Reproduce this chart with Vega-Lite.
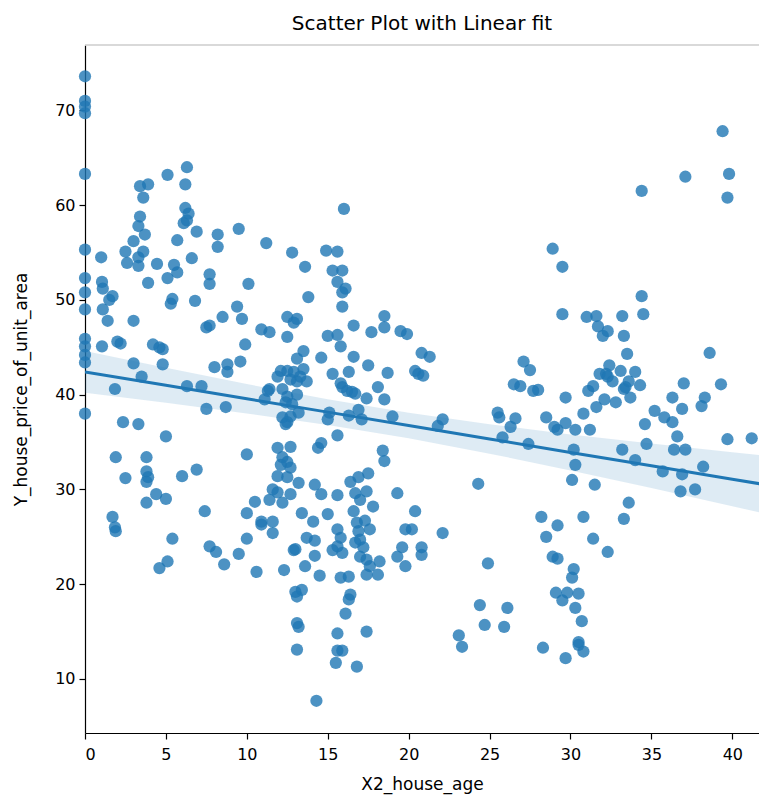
{
"$schema": "https://vega.github.io/schema/vega-lite/v6.json",
"width": 674, "height": 688,
"autosize": {"type": "none"},
"padding": {"left": 85, "top": 45, "right": 0, "bottom": 67},
"title": {"text": "Scatter Plot with Linear fit", "fontSize": 20, "font": "DejaVu Sans", "fontWeight": "normal", "color": "#000000", "offset": 10},
"config": {"view": {"stroke": null}, "font": "DejaVu Sans",
 "axis": {"grid": false, "domainColor": "#000000", "tickColor": "#000000", "labelColor": "#000000", "titleColor": "#000000", "labelFontSize": 16, "titleFontSize": 17, "titleFontWeight": "normal", "tickSize": 6, "labelPadding": 4, "domainWidth": 1.2, "tickWidth": 1.2}},
"datasets": {
"points": [
{"age":0,"price":73.6},{"age":0,"price":71.0},{"age":0,"price":70.4},{"age":0,"price":69.7},{"age":0,"price":63.3},{"age":0,"price":55.3},{"age":0,"price":52.3},{"age":0,"price":50.8},{"age":0,"price":49.0},{"age":0,"price":45.9},{"age":0,"price":45.1},{"age":0,"price":44.2},{"age":0,"price":43.4},{"age":0,"price":38.0},
{"age":1.0,"price":54.5},{"age":1.05,"price":51.9},{"age":1.1,"price":51.2},{"age":1.7,"price":50.4},{"age":1.1,"price":49.0},{"age":1.4,"price":47.8},{"age":1.5,"price":50.0},
{"age":1.05,"price":45.1},{"age":2.0,"price":45.6},{"age":2.2,"price":45.4},{"age":1.85,"price":40.6},{"age":1.9,"price":33.4},{"age":1.7,"price":27.1},{"age":1.85,"price":26.0},{"age":1.9,"price":25.6},
{"age":2.5,"price":55.1},{"age":2.6,"price":53.9},{"age":3.3,"price":54.5},{"age":3.6,"price":55.1},{"age":3.3,"price":53.6},{"age":3.0,"price":56.2},{"age":3.4,"price":58.8},{"age":3.3,"price":57.8},{"age":3.7,"price":56.9},{"age":3.4,"price":62.0},{"age":3.9,"price":62.2},{"age":3.6,"price":60.8},
{"age":3.9,"price":51.8},{"age":4.45,"price":53.8},{"age":3.0,"price":47.8},{"age":2.35,"price":37.1},{"age":3.3,"price":36.9},{"age":3.0,"price":43.3},{"age":3.5,"price":41.9},{"age":4.2,"price":45.3},{"age":4.6,"price":45.0},{"age":4.8,"price":44.8},{"age":4.8,"price":43.2},
{"age":3.8,"price":33.4},{"age":2.5,"price":31.2},{"age":3.8,"price":31.9},{"age":3.9,"price":31.3},{"age":3.8,"price":30.8},{"age":3.8,"price":28.6},{"age":4.4,"price":29.5},{"age":5.0,"price":29.0},{"age":4.6,"price":21.7},{"age":5.1,"price":22.4},{"age":5.4,"price":24.8},{"age":5.0,"price":35.6},
{"age":5.1,"price":63.2},{"age":6.3,"price":64.0},{"age":6.2,"price":62.2},{"age":6.2,"price":59.7},{"age":6.4,"price":59.1},{"age":6.1,"price":58.1},{"age":6.3,"price":58.4},{"age":6.9,"price":57.2},{"age":5.7,"price":56.3},{"age":5.5,"price":53.7},{"age":5.7,"price":52.9},{"age":6.6,"price":54.4},{"age":5.1,"price":52.3},
{"age":5.4,"price":50.1},{"age":5.3,"price":49.6},{"age":6.8,"price":49.9},{"age":7.7,"price":52.7},{"age":7.7,"price":51.7},{"age":8.2,"price":56.9},{"age":8.2,"price":55.6},{"age":9.5,"price":57.5},
{"age":7.5,"price":47.1},{"age":7.7,"price":47.3},{"age":8.5,"price":48.2},{"age":9.4,"price":49.3},{"age":9.7,"price":48.0},{"age":9.9,"price":45.3},
{"age":6.3,"price":40.9},{"age":7.2,"price":40.9},{"age":8.0,"price":42.9},{"age":8.8,"price":43.2},{"age":8.8,"price":42.4},{"age":9.6,"price":43.5},{"age":7.5,"price":38.5},{"age":8.7,"price":38.7},
{"age":6.0,"price":31.4},{"age":6.9,"price":32.1},{"age":7.4,"price":27.7},{"age":7.7,"price":24.0},{"age":8.1,"price":23.4},{"age":8.6,"price":22.1},{"age":9.5,"price":23.2},{"age":10.0,"price":24.8},{"age":10.0,"price":33.7},
{"age":10.1,"price":51.7},{"age":11.2,"price":56.0},{"age":12.8,"price":55.0},{"age":13.6,"price":53.5},{"age":10.9,"price":46.9},{"age":11.4,"price":46.6},{"age":12.5,"price":48.2},{"age":12.9,"price":47.6},{"age":13.1,"price":48.0},{"age":12.5,"price":46.1},{"age":13.8,"price":50.3},
{"age":11.3,"price":40.4},{"age":11.1,"price":39.5},{"age":10.9,"price":26.3},{"age":11.6,"price":25.4},{"age":10.6,"price":21.3},{"age":12.3,"price":21.5},{"age":12.9,"price":23.6},
{"age":13.5,"price":44.6},{"age":13.1,"price":43.8},{"age":14.6,"price":43.9},
{"age":12.1,"price":42.5},{"age":12.5,"price":42.5},{"age":12.9,"price":42.4},{"age":13.5,"price":42.7},{"age":11.9,"price":41.9},{"age":12.7,"price":41.6},{"age":13.1,"price":41.4},{"age":13.3,"price":41.9},{"age":13.7,"price":41.4},
{"age":12.2,"price":40.6},{"age":12.5,"price":39.8},{"age":13.1,"price":40.0},{"age":12.4,"price":39.2},{"age":12.8,"price":39.0},{"age":11.4,"price":40.6},
{"age":12.2,"price":37.6},{"age":12.5,"price":37.1},{"age":12.4,"price":36.9},{"age":12.7,"price":37.7},{"age":13.2,"price":38.1},
{"age":15.0,"price":46.2},{"age":15.6,"price":46.3},{"age":15.8,"price":45.1},
{"age":11.9,"price":34.4},{"age":12.7,"price":34.5},{"age":12.2,"price":33.4},{"age":12.5,"price":32.9},{"age":12.1,"price":32.6},{"age":12.7,"price":32.3},{"age":11.9,"price":31.4},{"age":12.5,"price":31.3},{"age":13.2,"price":30.7},{"age":11.6,"price":30.0},{"age":11.9,"price":29.7},{"age":12.7,"price":29.5},{"age":12.2,"price":28.6},{"age":11.4,"price":28.9},{"age":10.5,"price":28.7},{"age":10.0,"price":27.5},{"age":10.9,"price":26.6},{"age":11.6,"price":26.6},{"age":13.4,"price":27.5},{"age":14.1,"price":26.6},
{"age":14.4,"price":34.4},{"age":14.6,"price":34.9},{"age":14.2,"price":30.5},{"age":14.6,"price":29.5},
{"age":13.7,"price":24.9},{"age":14.2,"price":24.6},{"age":14.2,"price":23.0},{"age":13.0,"price":23.7},{"age":13.6,"price":21.9},{"age":14.5,"price":20.9},
{"age":13.0,"price":19.2},{"age":13.4,"price":19.4},{"age":13.1,"price":18.7},{"age":13.1,"price":15.9},{"age":13.2,"price":15.5},{"age":13.1,"price":13.1},{"age":14.3,"price":7.7},
{"age":16.0,"price":59.6},{"age":14.9,"price":55.2},{"age":15.6,"price":55.1},{"age":15.3,"price":53.1},{"age":15.9,"price":53.1},{"age":15.6,"price":51.9},{"age":16.1,"price":51.2},{"age":15.9,"price":50.8},{"age":15.9,"price":49.3},{"age":16.6,"price":47.3},{"age":18.5,"price":48.3},{"age":18.5,"price":47.1},{"age":17.7,"price":46.6},{"age":19.5,"price":46.7},{"age":19.9,"price":46.4},
{"age":16.6,"price":44.0},{"age":17.5,"price":43.1},{"age":18.7,"price":42.3},{"age":15.3,"price":42.2},{"age":16.3,"price":42.4},{"age":15.8,"price":41.2},{"age":15.9,"price":40.8},{"age":16.2,"price":40.4},{"age":16.5,"price":40.3},{"age":16.7,"price":40.1},{"age":18.1,"price":40.8},{"age":18.5,"price":39.5},{"age":17.4,"price":39.6},
{"age":15.1,"price":38.1},{"age":15.0,"price":37.4},{"age":16.3,"price":37.8},{"age":16.9,"price":38.4},{"age":17.1,"price":37.4},{"age":19.0,"price":37.7},
{"age":15.6,"price":35.7},{"age":18.4,"price":34.1},{"age":18.5,"price":33.0},
{"age":16.4,"price":30.8},{"age":16.9,"price":31.3},{"age":17.5,"price":31.7},{"age":15.6,"price":29.4},{"age":16.7,"price":29.6},{"age":17.4,"price":29.8},{"age":17.0,"price":28.9},{"age":19.3,"price":29.6},{"age":17.8,"price":28.2},{"age":15.0,"price":27.4},{"age":16.6,"price":27.7},
{"age":16.8,"price":26.5},{"age":17.3,"price":26.7},{"age":17.6,"price":25.8},{"age":16.9,"price":25.6},{"age":17.0,"price":24.7},{"age":17.2,"price":23.9},{"age":17.0,"price":22.9},{"age":17.4,"price":22.6},{"age":17.6,"price":21.9},{"age":18.2,"price":22.4},{"age":18.1,"price":21.0},{"age":17.4,"price":21.0},{"age":16.7,"price":24.4},
{"age":15.6,"price":25.8},{"age":15.8,"price":24.9},{"age":15.6,"price":24.0},{"age":15.9,"price":23.3},{"age":15.3,"price":23.6},
{"age":15.8,"price":20.7},{"age":16.3,"price":20.8},{"age":16.4,"price":18.9},{"age":16.3,"price":18.4},{"age":16.1,"price":16.9},{"age":17.4,"price":15.0},{"age":15.6,"price":14.8},{"age":15.6,"price":13.0},{"age":15.9,"price":13.0},{"age":15.5,"price":11.7},{"age":16.8,"price":11.3},
{"age":19.8,"price":25.8},{"age":20.2,"price":25.8},{"age":19.6,"price":23.9},{"age":19.3,"price":22.9},{"age":19.8,"price":21.9},{"age":20.4,"price":27.7},
{"age":20.8,"price":23.9},{"age":20.8,"price":23.1},{"age":22.1,"price":25.4},{"age":20.8,"price":44.4},{"age":21.3,"price":44.0},{"age":20.4,"price":42.5},{"age":20.6,"price":42.2},{"age":20.9,"price":42.0},{"age":22.1,"price":37.4},{"age":21.8,"price":36.7},
{"age":24.3,"price":30.6},{"age":24.9,"price":22.2},{"age":24.4,"price":17.8},{"age":24.7,"price":15.7},{"age":26.1,"price":17.5},{"age":25.9,"price":15.5},{"age":23.1,"price":14.6},{"age":23.3,"price":13.4},
{"age":25.5,"price":38.1},{"age":25.6,"price":37.6},{"age":26.6,"price":37.5},{"age":26.3,"price":36.6},{"age":25.8,"price":35.5},
{"age":27.1,"price":43.5},{"age":27.5,"price":42.6},{"age":26.5,"price":41.1},{"age":26.9,"price":40.9},{"age":27.7,"price":40.4},
{"age":28.0,"price":40.5},{"age":28.9,"price":55.4},{"age":29.5,"price":53.5},{"age":29.5,"price":48.5},{"age":29.7,"price":39.7},{"age":31.1,"price":40.4},{"age":31.4,"price":40.9},{"age":30.8,"price":38.0},{"age":28.5,"price":37.6},{"age":29.0,"price":36.6},{"age":29.2,"price":36.3},{"age":29.7,"price":37.0},{"age":30.3,"price":36.3},{"age":31.2,"price":36.3},{"age":27.4,"price":34.8},{"age":30.2,"price":34.2},{"age":30.3,"price":32.6},{"age":30.1,"price":31.0},{"age":31.5,"price":30.5},{"age":28.2,"price":27.1},{"age":30.8,"price":27.1},{"age":29.2,"price":26.2},{"age":28.5,"price":25.0},{"age":31.4,"price":24.8},{"age":32.3,"price":23.4},{"age":28.9,"price":22.9},{"age":29.2,"price":22.7},{"age":30.2,"price":21.6},{"age":30.1,"price":20.7},{"age":29.1,"price":19.1},{"age":29.8,"price":19.1},{"age":29.5,"price":18.3},{"age":30.5,"price":19.0},{"age":30.3,"price":17.5},{"age":30.7,"price":16.1},{"age":28.3,"price":13.3},{"age":30.5,"price":13.9},{"age":30.5,"price":13.6},{"age":30.8,"price":12.9},{"age":29.7,"price":12.2},
{"age":34.4,"price":50.4},{"age":34.5,"price":48.5},{"age":31.0,"price":48.2},{"age":31.6,"price":48.3},{"age":31.7,"price":47.2},{"age":32.3,"price":46.7},{"age":32.0,"price":46.2},{"age":33.2,"price":48.3},{"age":33.3,"price":46.2},{"age":33.5,"price":44.3},{"age":38.6,"price":44.4},{"age":39.3,"price":41.1},{"age":37.0,"price":41.2},{"age":36.3,"price":39.7},{"age":36.9,"price":38.5},{"age":38.3,"price":39.7},{"age":38.1,"price":38.8},
{"age":32.4,"price":43.1},{"age":31.8,"price":42.2},{"age":32.2,"price":42.2},{"age":32.3,"price":41.9},{"age":32.6,"price":41.4},{"age":33.1,"price":42.5},{"age":33.6,"price":41.4},{"age":34.0,"price":42.4},{"age":34.3,"price":41.0},{"age":33.3,"price":40.6},{"age":33.7,"price":39.7},{"age":33.4,"price":40.8},{"age":32.1,"price":39.5},{"age":32.8,"price":39.2},{"age":31.6,"price":38.7},
{"age":34.6,"price":36.9},{"age":35.2,"price":38.3},{"age":35.8,"price":37.6},{"age":36.3,"price":37.1},{"age":36.6,"price":35.6},{"age":34.7,"price":34.8},{"age":36.4,"price":34.2},{"age":37.1,"price":34.2},{"age":39.7,"price":35.3},{"age":41.2,"price":35.4},
{"age":33.2,"price":34.2},{"age":34.0,"price":33.1},{"age":35.7,"price":31.9},{"age":36.9,"price":31.6},{"age":38.2,"price":32.4},{"age":36.8,"price":29.8},{"age":37.7,"price":30.0},{"age":33.6,"price":28.6},{"age":33.3,"price":26.9},
{"age":34.4,"price":61.5},{"age":37.1,"price":63.0},{"age":39.4,"price":67.8},{"age":39.8,"price":63.3},{"age":39.7,"price":60.8}
],
"fit": [
{"age":0,"fit":42.4,"lo":40.2,"hi":44.6},
{"age":5,"fit":40.99,"lo":39.14,"hi":42.84},
{"age":10,"fit":39.57,"lo":38.02,"hi":41.12},
{"age":15,"fit":38.16,"lo":36.81,"hi":39.51},
{"age":20,"fit":36.74,"lo":35.39,"hi":38.09},
{"age":25,"fit":35.33,"lo":33.78,"hi":36.88},
{"age":30,"fit":33.91,"lo":32.01,"hi":35.81},
{"age":35,"fit":32.5,"lo":30.15,"hi":34.85},
{"age":40,"fit":31.08,"lo":28.23,"hi":33.93},
{"age":45,"fit":29.67,"lo":26.27,"hi":33.07}
],
"top": [{"v": 76.9}]
},
"layer": [
{"data": {"name": "top"},
 "mark": {"type": "rule", "color": "#cccccc", "strokeWidth": 1.5},
 "encoding": {"y": {"field": "v", "type": "quantitative", "scale": {"domain": [4.3, 76.9], "nice": false, "zero": false}}}},
{"data": {"name": "points"},
 "mark": {"type": "circle", "size": 150, "color": "#1f77b4", "opacity": 0.8},
 "encoding": {
  "x": {"field": "age", "type": "quantitative", "scale": {"domain": [0, 41.65], "nice": false, "zero": false}, "axis": {"values": [0,5,10,15,20,25,30,35,40], "title": "X2_house_age", "titlePadding": 14, "labelPadding": 7}},
  "y": {"field": "price", "type": "quantitative", "scale": {"domain": [4.3, 76.9], "nice": false, "zero": false}, "axis": {"values": [10,20,30,40,50,60,70], "title": "Y_house_price_of_unit_area", "titlePadding": 24}}}},
{"data": {"name": "fit"},
 "mark": {"type": "area", "color": "#1f77b4", "opacity": 0.15, "clip": true},
 "encoding": {"x": {"field": "age", "type": "quantitative"}, "y": {"field": "lo", "type": "quantitative"}, "y2": {"field": "hi"}}},
{"data": {"name": "fit"},
 "mark": {"type": "line", "color": "#1f77b4", "strokeWidth": 3, "clip": true},
 "encoding": {"x": {"field": "age", "type": "quantitative"}, "y": {"field": "fit", "type": "quantitative"}}}
]
}
